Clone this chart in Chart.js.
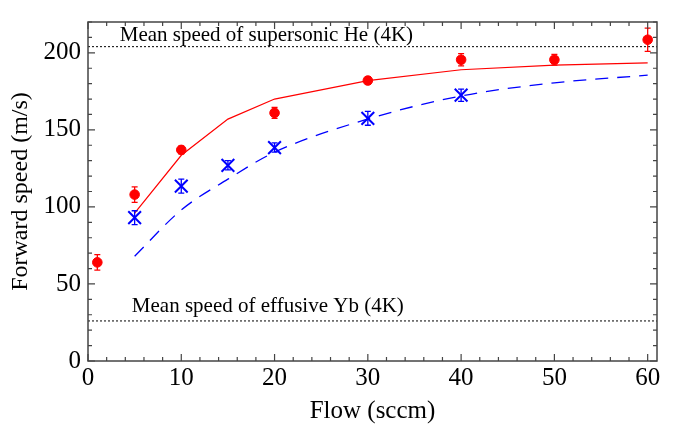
<!DOCTYPE html>
<html lang="en">
  <head>
    <meta charset="UTF-8" />
    <title>Forward speed vs flow</title>
    <script src="https://cdn.jsdelivr.net/npm/chart.js"></script>
    <style>
      body {
        margin: 0;
        background: #ffffff;
      }
    </style>
  </head>
  <body>
    <canvas id="speedChart" width="673" height="428"></canvas>

    <script>
      // measured points (red circles) with error bars
      const flowRed = [1, 5, 10, 20, 30, 40, 50, 60];
      const speedRed = [64, 108, 137, 161, 182, 195.5, 195.5, 208.5];
      const errRed = [5, 5, 2.5, 3.5, 2.5, 4, 3.5, 7.5];

      // measured points (blue asterisks) with error bars
      const flowBlue = [5, 10, 15, 20, 30, 40];
      const speedBlue = [93, 113.5, 127, 138.5, 157.5, 172.5];
      const errBlue = [4.5, 4.5, 3, 3, 4.5, 4];

      // model curves
      const fitFlow = [5, 10, 15, 20, 30, 40, 50, 60];
      const fitRed = [96, 133.5, 157, 170, 182, 189, 192, 193.5];
      const fitBlue = [68, 98, 118, 135.5, 157, 172, 180.5, 185.5];

      // reference speeds
      const heSpeed = 204;
      const ybSpeed = 26;
      const heLabel = "Mean speed of supersonic He (4K)";
      const ybLabel = "Mean speed of effusive Yb (4K)";

      const xTicks = [0, 10, 20, 30, 40, 50, 60];
      const yTicks = [0, 50, 100, 150, 200];

      const FONT = "'Liberation Serif', 'DejaVu Serif', serif";
      const FRAME = "#444444";

      const toXY = (xs, ys) => xs.map((x, i) => ({ x: x, y: ys[i] }));

      // error bars, drawn from each dataset's "errors" array
      const errorBars = {
        id: "errorBars",
        afterDatasetsDraw(chart) {
          const ctx = chart.ctx;
          const xs = chart.scales.x;
          const ys = chart.scales.y;
          chart.data.datasets.forEach((ds) => {
            if (!ds.errors) return;
            ctx.save();
            ctx.strokeStyle = ds.borderColor;
            ctx.lineWidth = 1.3;
            ds.data.forEach((p, i) => {
              const px = xs.getPixelForValue(p.x);
              const top = ys.getPixelForValue(p.y + ds.errors[i]);
              const bot = ys.getPixelForValue(p.y - ds.errors[i]);
              ctx.beginPath();
              ctx.moveTo(px, top);
              ctx.lineTo(px, bot);
              ctx.moveTo(px - 3, top);
              ctx.lineTo(px + 3, top);
              ctx.moveTo(px - 3, bot);
              ctx.lineTo(px + 3, bot);
              ctx.stroke();
            });
            ctx.restore();
          });
        },
      };

      // frame with inward ticks on all four sides + reference line labels
      const frameTicks = {
        id: "frameTicks",
        afterDraw(chart) {
          const ctx = chart.ctx;
          const a = chart.chartArea;
          const xs = chart.scales.x;
          const ys = chart.scales.y;
          ctx.save();
          ctx.strokeStyle = FRAME;
          ctx.lineWidth = 1.5;
          ctx.strokeRect(a.left, a.top, a.right - a.left, a.bottom - a.top);
          ctx.lineWidth = 1.2;
          ctx.beginPath();
          for (let v = xs.min; v <= xs.max; v += 2) {
            const px = xs.getPixelForValue(v);
            const len = v % 10 === 0 ? 7 : 4;
            ctx.moveTo(px, a.bottom);
            ctx.lineTo(px, a.bottom - len);
            ctx.moveTo(px, a.top);
            ctx.lineTo(px, a.top + len);
          }
          for (let v = ys.min; v <= ys.max; v += 10) {
            const py = ys.getPixelForValue(v);
            const len = v % 50 === 0 ? 7 : 4;
            ctx.moveTo(a.left, py);
            ctx.lineTo(a.left + len, py);
            ctx.moveTo(a.right, py);
            ctx.lineTo(a.right - len, py);
          }
          ctx.stroke();

          ctx.fillStyle = "#000000";
          ctx.font = "21px " + FONT;
          ctx.textBaseline = "bottom";
          ctx.textAlign = "left";
          ctx.fillText(heLabel, xs.getPixelForValue(3.4), ys.getPixelForValue(heSpeed) - 1);
          ctx.fillText(ybLabel, xs.getPixelForValue(4.7), ys.getPixelForValue(ybSpeed) - 4);
          ctx.restore();
        },
      };

      const ctx = document.getElementById("speedChart").getContext("2d");
      const speedChart = new Chart(ctx, {
        type: "scatter",
        data: {
          datasets: [
            {
              label: "red data",
              data: toXY(flowRed, speedRed),
              errors: errRed,
              pointStyle: "circle",
              pointRadius: 4.8,
              backgroundColor: "#ff0000",
              borderColor: "#ff0000",
              showLine: false,
            },
            {
              label: "blue data",
              data: toXY(flowBlue, speedBlue),
              errors: errBlue,
              pointStyle: "crossRot",
              pointRadius: 9,
              pointBorderWidth: 2,
              backgroundColor: "#0000ff",
              borderColor: "#0000ff",
              showLine: false,
            },
            {
              label: "red model",
              data: toXY(fitFlow, fitRed),
              showLine: true,
              borderColor: "#ff0000",
              borderWidth: 1.2,
              pointRadius: 0,
            },
            {
              label: "blue model",
              data: toXY(fitFlow, fitBlue),
              showLine: true,
              borderColor: "#0000ff",
              borderWidth: 1.3,
              borderDash: [13, 9],
              cubicInterpolationMode: "monotone",
              pointRadius: 0,
            },
            {
              label: "He",
              data: [
                { x: 0, y: heSpeed },
                { x: 61, y: heSpeed },
              ],
              showLine: true,
              borderColor: "#000000",
              borderWidth: 1,
              borderDash: [2, 2],
              pointRadius: 0,
            },
            {
              label: "Yb",
              data: [
                { x: 0, y: ybSpeed },
                { x: 61, y: ybSpeed },
              ],
              showLine: true,
              borderColor: "#000000",
              borderWidth: 1,
              borderDash: [2, 2],
              pointRadius: 0,
            },
          ],
        },
        options: {
          responsive: false,
          animation: false,
          devicePixelRatio: 1,
          layout: { padding: { top: 8, right: 16, left: 0, bottom: 0 } },
          plugins: {
            legend: { display: false },
            tooltip: { enabled: false },
          },
          scales: {
            x: {
              type: "linear",
              min: 0,
              max: 61,
              afterBuildTicks: (s) => {
                s.ticks = xTicks.map((v) => ({ value: v }));
              },
              afterFit: (s) => {
                s.height = 67;
              },
              grid: { display: false, drawTicks: false },
              border: { display: false },
              ticks: {
                color: "#000000",
                padding: 2,
                maxRotation: 0,
                font: { family: FONT, size: 25 },
              },
              title: {
                display: true,
                text: "Flow (sccm)",
                color: "#000000",
                padding: { top: 2, bottom: 2 },
                font: { family: FONT, size: 25 },
              },
            },
            y: {
              type: "linear",
              min: 0,
              max: 220,
              afterBuildTicks: (s) => {
                s.ticks = yTicks.map((v) => ({ value: v }));
              },
              afterFit: (s) => {
                s.width = 88;
              },
              grid: { display: false, drawTicks: false },
              border: { display: false },
              ticks: {
                color: "#000000",
                padding: 7,
                font: { family: FONT, size: 25 },
              },
              title: {
                display: true,
                text: "Forward speed (m/s)",
                color: "#000000",
                padding: { top: 6, bottom: 0 },
                font: { family: FONT, size: 24 },
              },
            },
          },
        },
        plugins: [errorBars, frameTicks],
      });
    </script>
  </body>
</html>
